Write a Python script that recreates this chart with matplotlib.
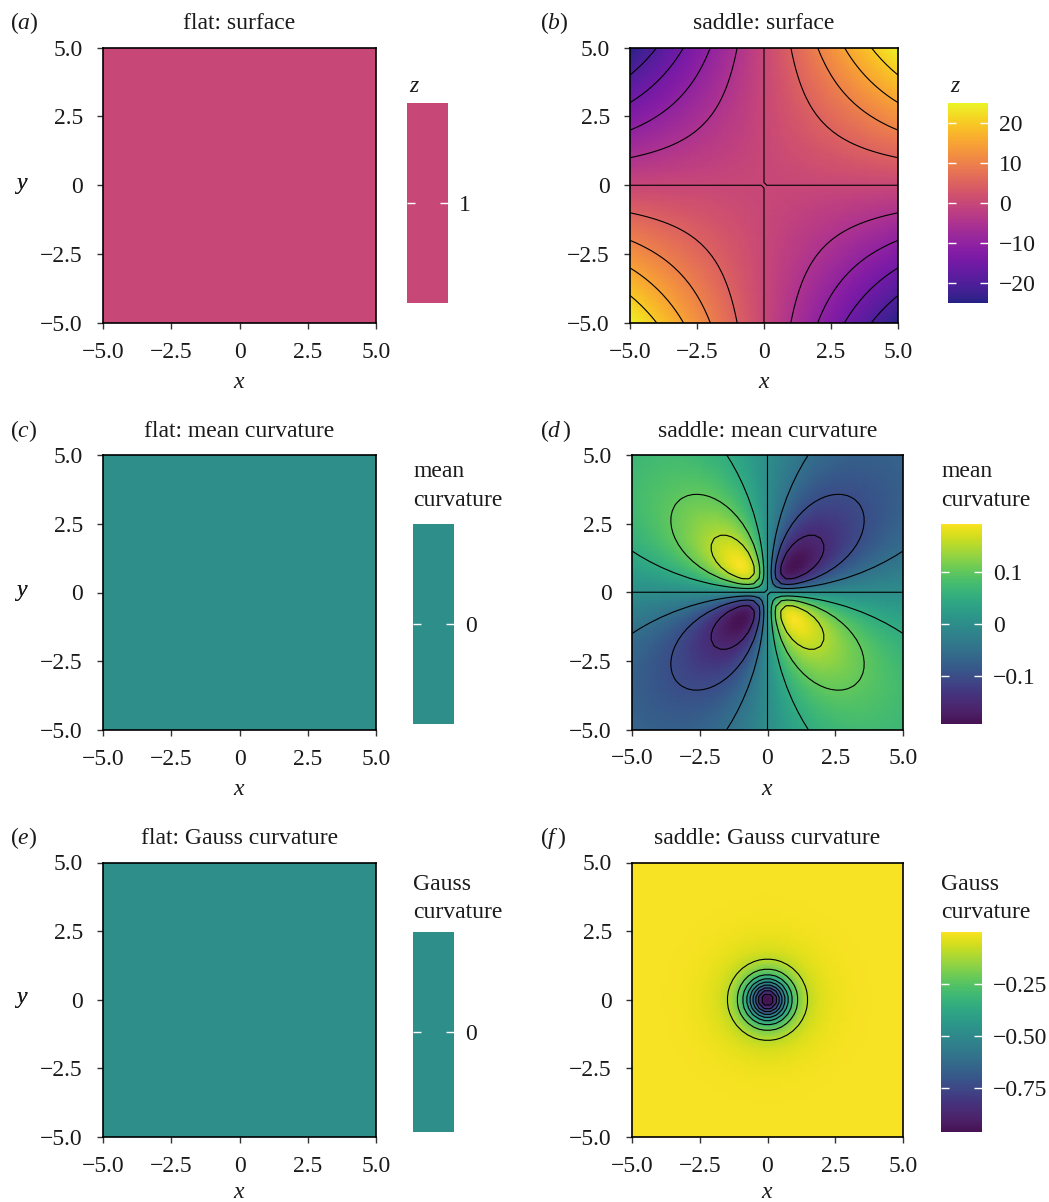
import numpy as np
import matplotlib
matplotlib.use('Agg')
import matplotlib.pyplot as plt
from matplotlib.colors import ListedColormap, Normalize, rgb_to_hsv, hsv_to_rgb

plt.rcParams['font.family'] = ['Liberation Serif', 'DejaVu Serif']
plt.rcParams['mathtext.fontset'] = 'custom'
plt.rcParams['mathtext.rm'] = 'Liberation Serif'
plt.rcParams['mathtext.it'] = 'Liberation Serif:italic'
plt.rcParams['font.size'] = 17
plt.rcParams['axes.unicode_minus'] = True
plt.rcParams['contour.negative_linestyle'] = 'solid'

TXT = '#1a1a1a'
FS = 17

# ---------------- data ----------------
n_grid = 50
x_vals = np.linspace(-5, 5, n_grid)
y_vals = np.linspace(-5, 5, n_grid)
X, Y = np.meshgrid(x_vals, y_vals)

flat_surface = np.ones_like(X)          # z = 1
flat_mean = np.zeros_like(X)
flat_gauss = np.zeros_like(X)

saddle_surface = X * Y                  # z = xy
R2 = 1 + X**2 + Y**2
saddle_mean = -X * Y / R2**1.5
saddle_gauss = -1.0 / R2**2

axis_ticks = [-5.0, -2.5, 0.0, 2.5, 5.0]
axis_tick_labels = ['\u22125.0', '\u22122.5', '0', '2.5', '5.0']

z_levels = [-20, -15, -10, -5, 0, 5, 10, 15, 20]
mean_levels = [-0.15, -0.10, -0.05, 0.0, 0.05, 0.10, 0.15]
gauss_levels = [-0.9, -0.8, -0.7, -0.6, -0.5, -0.4, -0.3, -0.2, -0.1]

flat_z_ticks = [1]
flat_z_labels = ['1']
flat_curv_ticks = [0]
flat_curv_labels = ['0']
saddle_z_ticks = [-20, -10, 0, 10, 20]
saddle_z_labels = ['\u221220', '\u221210', '0', '10', '20']
mean_ticks = [-0.1, 0.0, 0.1]
mean_labels = ['\u22120.1', '0', '0.1']
gauss_ticks = [-0.75, -0.50, -0.25]
gauss_labels = ['\u22120.75', '\u22120.50', '\u22120.25']

titles = ['flat: surface', 'saddle: surface',
          'flat: mean curvature', 'saddle: mean curvature',
          'flat: Gauss curvature', 'saddle: Gauss curvature']
panel_tags = ['$(a)$', '$(b)$', '$(c)$', '$(d\\,)$', '$(e)$', '$(f\\,)$']

# ---------------- layout helpers ----------------
W, H = 1049, 1202
fig = plt.figure(figsize=(W / 100, H / 100), dpi=100)


def rect(l, t, r, b):
    return [l / W, 1 - b / H, (r - l) / W, (b - t) / H]


def ftext(x, y, s, **kw):
    kw.setdefault('color', TXT)
    kw.setdefault('fontsize', FS)
    fig.text(x / W, 1 - y / H, s, **kw)


def soften(name):
    """Printed look of the colormap: saturation of dark colours compressed."""
    base = plt.get_cmap(name)(np.linspace(0, 1, 256))[:, :3]
    hsv = rgb_to_hsv(base)
    s, v = hsv[:, 1], hsv[:, 2]
    k = 0.45 + 0.55 * np.clip((v - 0.55) / 0.4, 0, 1)
    hsv[:, 1] = np.where(s > 0.6, 0.6 + (s - 0.6) * k, s)
    hsv[:, 2] = np.clip(v * 0.98, 0, 1)
    return ListedColormap(hsv_to_rgb(hsv), name=name + '_soft')


axes_px = [(103, 47.5, 376, 323), (630, 47.5, 898, 323),
           (103, 455, 376, 730), (632, 455, 903, 729.5),
           (103, 862.5, 376, 1137), (632, 862.5, 903, 1137)]
cbar_px = [(407, 103, 448, 303), (948, 103, 988, 303),
           (413, 524, 454, 724), (941, 524, 982, 724),
           (413, 932, 454, 1132), (941, 932, 982, 1132)]
title_base = [29, 29, 437, 437, 844, 844]
xlabel_pad = [7, 7, 7, 7, 4, 4]

plasma = soften('plasma')
viridis = soften('viridis')
flat_plasma = ListedColormap([plasma(0.5)])
flat_viridis = ListedColormap([viridis(0.5)])

panels = [
    dict(Z=flat_surface, cmap=flat_plasma, norm=Normalize(0.5, 1.5), levels=None,
         cticks=flat_z_ticks, clabels=flat_z_labels),
    dict(Z=saddle_surface, cmap=plasma, norm=Normalize(saddle_surface.min(), saddle_surface.max()),
         levels=z_levels, cticks=saddle_z_ticks, clabels=saddle_z_labels),
    dict(Z=flat_mean, cmap=flat_viridis, norm=Normalize(-1, 1), levels=None,
         cticks=flat_curv_ticks, clabels=flat_curv_labels),
    dict(Z=saddle_mean, cmap=viridis, norm=Normalize(saddle_mean.min(), saddle_mean.max()),
         levels=mean_levels, cticks=mean_ticks, clabels=mean_labels),
    dict(Z=flat_gauss, cmap=flat_viridis, norm=Normalize(-1, 1), levels=None,
         cticks=flat_curv_ticks, clabels=flat_curv_labels),
    dict(Z=saddle_gauss, cmap=viridis, norm=Normalize(saddle_gauss.min(), saddle_gauss.max()),
         levels=gauss_levels, cticks=gauss_ticks, clabels=gauss_labels),
]

for i, p in enumerate(panels):
    l, t, r, b = axes_px[i]
    ax = fig.add_axes(rect(l, t, r, b))
    m = ax.pcolormesh(X, Y, p['Z'], cmap=p['cmap'], norm=p['norm'], shading='gouraud')
    if p['levels'] is not None:
        ax.contour(X, Y, p['Z'], levels=p['levels'], colors='black',
                   linewidths=0.8, linestyles='solid')
    ax.set_xlim(-5, 5)
    ax.set_ylim(-5, 5)
    ax.set_xticks(axis_ticks)
    ax.set_xticklabels(axis_tick_labels)
    ax.set_yticks(axis_ticks)
    ax.set_yticklabels(axis_tick_labels)
    ax.tick_params(axis='both', direction='out', length=4.5, width=1.0, color='#333333',
                   labelcolor=TXT, labelsize=FS)
    ax.tick_params(axis='x', pad=9)
    ax.tick_params(axis='y', pad=10)
    for s in ax.spines.values():
        s.set_linewidth(1.2)
        s.set_color('black')
    ax.set_xlabel('$x$', fontsize=FS, color=TXT, labelpad=xlabel_pad[i])
    # horizontal y label at the left
    ftext(22, (t + b) / 2, '$y$', ha='center', va='center')
    # title and panel tag
    ftext((l + r) / 2, title_base[i], titles[i], ha='center', va='baseline')
    tag_x = 10 if i % 2 == 0 else 540
    ftext(tag_x, title_base[i], panel_tags[i], ha='left', va='baseline')

    # colorbar
    cl, ct, cr, cb_ = cbar_px[i]
    cax = fig.add_axes(rect(cl, ct, cr, cb_))
    cb = fig.colorbar(m, cax=cax)
    cb.outline.set_visible(False)
    cb.set_ticks(p['cticks'])
    cb.set_ticklabels(p['clabels'])
    cax.tick_params(direction='in', left=True, right=True, length=6, width=1.0,
                    color='white', labelcolor=TXT, labelsize=FS, pad=8)
    cax.minorticks_off()

# colorbar titles
ftext(409, 92, '$z$', ha='left', va='baseline')
ftext(950, 92, '$z$', ha='left', va='baseline')
ftext(413, 477, 'mean', ha='left', va='baseline')
ftext(413, 506, 'curvature', ha='left', va='baseline')
ftext(941, 477, 'mean', ha='left', va='baseline')
ftext(941, 506, 'curvature', ha='left', va='baseline')
ftext(413, 890, 'Gauss', ha='left', va='baseline')
ftext(413, 918, 'curvature', ha='left', va='baseline')
ftext(941, 890, 'Gauss', ha='left', va='baseline')
ftext(941, 918, 'curvature', ha='left', va='baseline')

fig.savefig('out.png', dpi=100, facecolor='white')
